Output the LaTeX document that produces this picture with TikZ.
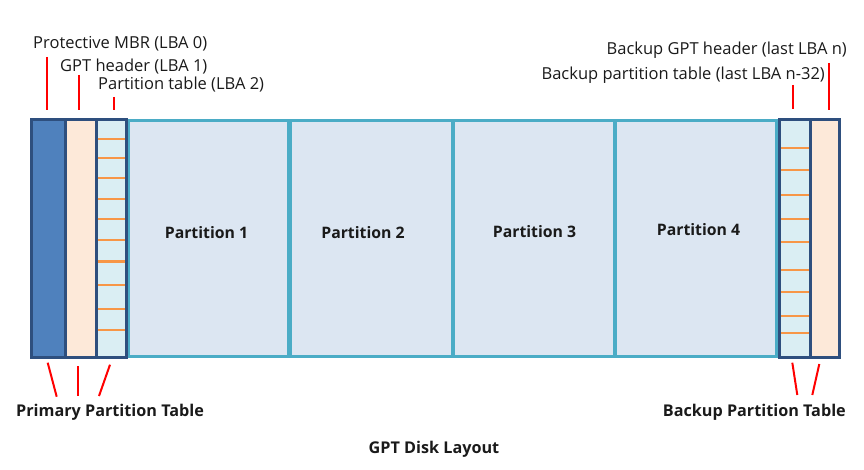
\documentclass[tikz,border=0pt]{standalone}
\usepackage{fontspec}
\setmainfont{Open Sans}
\definecolor{mbrfill}{HTML}{4F81BD}
\definecolor{navy}{HTML}{2E4F7E}
\definecolor{hdrfill}{HTML}{FDE9D9}
\definecolor{tblfill}{HTML}{DAEEF3}
\definecolor{orangeln}{HTML}{F79646}
\definecolor{partfill}{HTML}{DCE6F2}
\definecolor{teal}{HTML}{4BACC6}
\definecolor{redln}{HTML}{FF0000}
\definecolor{txt}{HTML}{1A1A1A}
\tikzset{
  blk/.style={rectangle, inner sep=0pt, outer sep=0pt, anchor=north west, minimum height=237pt, line width=3pt, draw=navy},
  part/.style={rectangle, inner sep=0pt, outer sep=0pt, anchor=north west, minimum height=236pt, line width=3.2pt, draw=teal, fill=partfill},
  ptxt/.style={text=txt, font=\fontsize{15.8}{18}\selectfont\bfseries},
  slot/.style={line width=2pt, draw=orangeln},
  lead/.style={line width=2pt, draw=redln},
  lbl/.style={inner sep=0pt, text=txt, font=\fontsize{16.5}{18}\selectfont},
  blbl/.style={inner sep=0pt, text=txt, font=\fontsize{16.2}{18}\selectfont\bfseries}
}
\begin{document}
\begin{tikzpicture}[x=1pt,y=-1pt]
\useasboundingbox (0,0) rectangle (864,470);
% partitions
\node[part, minimum width=161pt] (p1) at (128,120.5) {};
\node[part, minimum width=163pt] (p2) at (290,120.5) {};
\node[part, minimum width=162pt] (p3) at (453,120.5) {};
\node[part, minimum width=162pt] (p4) at (615,120.5) {};
\node[ptxt] (t1) at (206.5,233) {Partition 1};
\node[ptxt] (t2) at (363,233) {Partition 2};
\node[ptxt] (t3) at (534.5,232) {Partition 3};
\node[ptxt] (t4) at (698.5,230) {Partition 4};
% primary side
\node[blk, fill=mbrfill, minimum width=34pt] (mbr) at (31,120) {};
\node[blk, fill=hdrfill, minimum width=31pt] (hdr) at (65,120) {};
\node[blk, fill=tblfill, minimum width=30pt] (tbl) at (96,120) {};
\foreach \y in {139.5,158.5,178.5,199.5,219.5,240.5,261.5,284.5,308.5,330} {
  \draw[slot] ([xshift=1.5pt]tbl.west |- 0,\y) -- ([xshift=-1.5pt]tbl.east |- 0,\y);
}
% backup side
\node[blk, fill=tblfill, minimum width=31pt] (btbl) at (779,120) {};
\node[blk, fill=hdrfill, minimum width=29pt] (bhdr) at (810,120) {};
\foreach \y in {148.5,170.5,195,219.5,242.5,270,292,316,332.5} {
  \draw[slot] ([xshift=1.5pt]btbl.west |- 0,\y) -- ([xshift=-1.5pt]btbl.east |- 0,\y);
}
\draw[line width=3pt, draw=navy] (mbr.north west) rectangle (tbl.south east);
\draw[line width=3pt, draw=navy] (btbl.north west) rectangle (bhdr.south east);
% top labels
\node[lbl, anchor=base west] (lmbr) at (33,49) {Protective MBR (LBA 0)};
\node[lbl, anchor=base west] (lhdr) at (60,71.5) {GPT header (LBA 1)};
\node[lbl, anchor=base west] (ltbl) at (98,90) {Partition table (LBA 2)};
\node[lbl, anchor=base east] (lbhdr) at (847,55) {Backup GPT header (last LBA n)};
\node[lbl, anchor=base east] (lbtbl) at (825,80) {Backup partition table (last LBA n-32)};
\coordinate (a1) at (47,57);   \coordinate (a2) at (47,110);
\coordinate (b1) at (79,75);   \coordinate (b2) at (79,110);
\coordinate (c1) at (114,97);  \coordinate (c2) at (114,110);
\coordinate (d1) at (792.7,85); \coordinate (d2) at (792.7,109);
\coordinate (e1) at (828.7,63); \coordinate (e2) at (828.7,110);
\draw[lead] (a1) -- (a2);
\draw[lead] (b1) -- (b2);
\draw[lead] (c1) -- (c2);
\draw[lead] (d1) -- (d2);
\draw[lead] (e1) -- (e2);
% bottom leads
\coordinate (f1) at (47.7,362.7); \coordinate (f2) at (56.7,396.7);
\coordinate (g1) at (77.7,366);   \coordinate (g2) at (77.7,396);
\coordinate (h1) at (110,364.7);  \coordinate (h2) at (99,396);
\coordinate (i1) at (792.3,362.7); \coordinate (i2) at (797.3,395);
\coordinate (j1) at (819.3,364);   \coordinate (j2) at (812.3,395);
\draw[lead] (f1) -- (f2);
\draw[lead] (g1) -- (g2);
\draw[lead] (h1) -- (h2);
\draw[lead] (i1) -- (i2);
\draw[lead] (j1) -- (j2);
% bottom labels
\node[blbl, anchor=base west] (lprim) at (16,416.7) {Primary Partition Table};
\node[blbl, anchor=base east] (lback) at (846,416.7) {Backup Partition Table};
\node[blbl, anchor=base] (ltitle) at (434,453) {GPT Disk Layout};
\end{tikzpicture}
\end{document}
